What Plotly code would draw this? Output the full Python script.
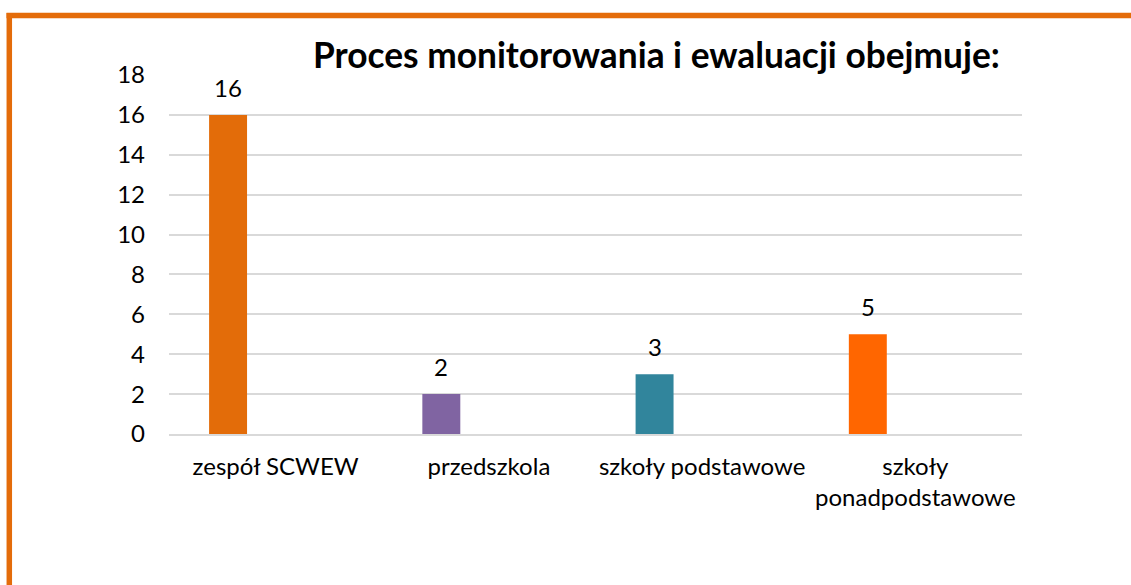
import plotly.graph_objects as go

categories = ["zespół SCWEW", "przedszkola", "szkoły podstawowe", "szkoły<br>ponadpodstawowe"]
values = [16, 2, 3, 5]
bar_colors = ["#E36C09", "#8064A2", "#31859C", "#FF6600"]
y_ticks = [0, 2, 4, 6, 8, 10, 12, 14, 16, 18]
title_text = "Proces monitorowania i ewaluacji obejmuje:"

FONT = "Lato, 'Open Sans', sans-serif"
BAR_OFFSET = -0.312
BAR_WIDTH = 0.178

fig = go.Figure()
fig.add_trace(go.Bar(
    x=categories, y=values,
    marker=dict(color=bar_colors, line=dict(width=0)),
    offset=BAR_OFFSET, width=BAR_WIDTH,
    hoverinfo="x+y",
))

L, R, T, B = 169, 1131 - 1022, 75, 585 - 434
pw, ph = 1131 - L - R, 585 - T - B

def px_x(p):
    return (p - L) / pw

def px_y(p):
    return (585 - B - p) / ph

annotations = []
for i, v in enumerate(values):
    annotations.append(dict(
        x=i + BAR_OFFSET + BAR_WIDTH / 2, y=v, xref="x", yref="y",
        text=str(v), showarrow=False, yanchor="bottom", yshift=11,
        font=dict(family=FONT, size=24, color="#000000"),
    ))
annotations.append(dict(
    x=px_x(656.5), y=px_y(55), xref="paper", yref="paper",
    xanchor="center", yanchor="middle", showarrow=False,
    text="<b>" + title_text + "</b>",
    font=dict(family=FONT, size=35.3, color="#000000"),
))

orange = "#E46C0A"
shapes = [
    dict(type="line", xref="paper", yref="paper",
         x0=px_x(6.5), x1=px_x(1140), y0=px_y(15.5), y1=px_y(15.5),
         line=dict(color=orange, width=5.5)),
    dict(type="line", xref="paper", yref="paper",
         x0=px_x(9.3), x1=px_x(9.3), y0=px_y(13), y1=px_y(600),
         line=dict(color=orange, width=5.5)),
]

fig.update_layout(
    width=1131, height=585,
    margin=dict(l=L, r=R, t=T, b=B, pad=0),
    paper_bgcolor="white", plot_bgcolor="white",
    showlegend=False,
    font=dict(family=FONT, size=24, color="#000000"),
    annotations=annotations,
    shapes=shapes,
    xaxis=dict(
        type="category", showgrid=False, showline=True, linecolor="#D9D9D9",
        linewidth=2, ticks="", tickfont=dict(size=24, family=FONT),
        ticklabelstandoff=10,
    ),
    yaxis=dict(
        range=[0, 18], tickvals=y_ticks, showgrid=True, gridcolor="#D9D9D9",
        gridwidth=2, zeroline=False, showline=False, ticks="",
        tickfont=dict(size=24, family=FONT), ticklabelstandoff=23,
    ),
)

fig.write_html("out.html", config={"displayModeBar": False},
               post_script="document.body.style.margin='0';")
